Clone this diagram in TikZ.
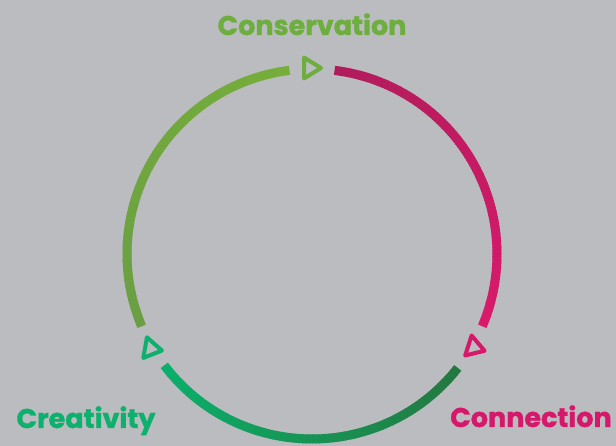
\documentclass[tikz,border=0pt]{standalone}
\usepackage{fontspec}
\setmainfont{Poppins}[BoldFeatures={FakeBold=1.2}]
\definecolor{bg}{HTML}{BBBCBF}
\definecolor{consc}{HTML}{6DAE3E}
\definecolor{creac}{HTML}{0DB06C}
\definecolor{connc}{HTML}{D6186B}
\definecolor{aTop}{HTML}{76AE3A}
\definecolor{aLeft}{HTML}{6A9E44}
\definecolor{mTop}{HTML}{B01C5B}
\definecolor{mBot}{HTML}{D91A6B}
\definecolor{gLeft}{HTML}{0AB06B}
\definecolor{gRight}{HTML}{24773F}
\tikzset{
  lbl/.style={font=\bfseries\fontsize{27}{27}\selectfont, anchor=base, inner sep=0pt},
  tri/.style={line width=4pt, line join=round, line cap=round},
}
\newcommand{\gradarc}[5]{%
  \foreach \a in {#1,...,#5} {
    \pgfmathtruncatemacro\p{round(100*(\a-#1)/(#2-#1))}
    \pgfmathsetmacro\e{min(\a+1.4,#2)}
    \draw[line width=9pt, color=#4!\p!#3] ([shift={(\a:185)}]O) arc[start angle=\a, end angle=\e, radius=185];
  }%
}
\begin{document}
\begin{tikzpicture}[x=1pt,y=1pt]
\fill[bg] (0,0) rectangle (616,446);
\useasboundingbox (0,0) rectangle (616,446);
\coordinate (O) at (312,192);
\gradarc{97}{203}{aTop}{aLeft}{202}
\gradarc{-23}{83}{mBot}{mTop}{82}
\gradarc{217}{322}{gLeft}{gRight}{321}
% triangles
\draw[tri, consc] ([shift={(0,186)}]O) ++(-8,10.5) -- ++(17,-10.5) -- ++(-17,-10.5) -- cycle;
\begin{scope}[shift={(153,97)}, rotate=-10]
\draw[tri, creac] (-8,10.5) -- (9,0) -- (-8,-10.5) -- cycle;
\end{scope}
\begin{scope}[shift={(476,98)}, rotate=-18]
\draw[tri, connc] (-8,10.5) -- (9,0) -- (-8,-10.5) -- cycle;
\end{scope}
\node[lbl, text=consc] (cons) at (312,411) {Conservation};
\node[lbl, text=creac] (crea) at (86,18) {Creativity};
\node[lbl, text=connc] (conn) at (531,19) {Connection};
\end{tikzpicture}
\end{document}
